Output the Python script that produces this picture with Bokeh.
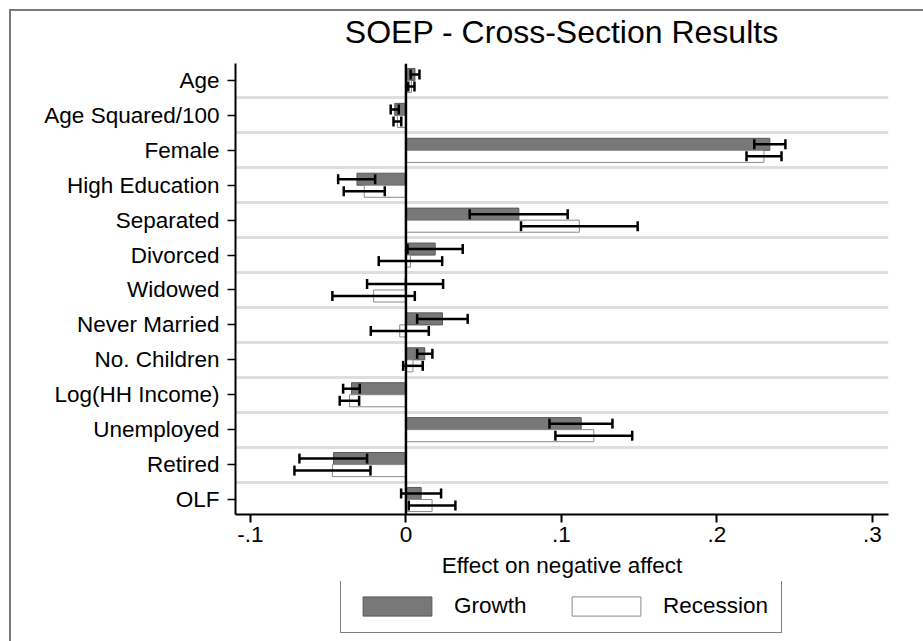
from bokeh.plotting import figure
from bokeh.layouts import column
from bokeh.models import (ColumnDataSource, Range1d, FixedTicker, Span, Legend,
                          LegendItem, Div)
from bokeh.embed import file_html
from bokeh.resources import INLINE

title_text = "SOEP - Cross-Section Results"
x_axis_label = "Effect on negative affect"

categories = ["Age", "Age Squared/100", "Female", "High Education", "Separated",
              "Divorced", "Widowed", "Never Married", "No. Children",
              "Log(HH Income)", "Unemployed", "Retired", "OLF"]

growth = [0.0058, -0.0072, 0.234, -0.0315, 0.0726, 0.0188, -0.0005, 0.0235,
          0.0121, -0.035, 0.1127, -0.0466, 0.0098]
growth_lo = [0.003, -0.0098, 0.224, -0.0436, 0.041, 0.001, -0.025, 0.0072,
             0.0072, -0.0404, 0.0923, -0.0685, -0.0031]
growth_hi = [0.0087, -0.0046, 0.244, -0.0198, 0.104, 0.0365, 0.0239, 0.0397,
             0.017, -0.0297, 0.1328, -0.025, 0.0226]

recession = [0.0035, -0.0055, 0.2302, -0.0268, 0.1115, 0.0029, -0.0208, -0.004,
             0.0045, -0.0363, 0.1208, -0.0473, 0.0168]
recession_lo = [0.0015, -0.008, 0.219, -0.040, 0.074, -0.0175, -0.0473, -0.0226,
                -0.0018, -0.0426, 0.0961, -0.0717, 0.0018]
recession_hi = [0.0055, -0.003, 0.2415, -0.0136, 0.149, 0.0233, 0.0057, 0.0147,
                0.0108, -0.0301, 0.1455, -0.0228, 0.0318]

x_ticks = [-0.1, 0.0, 0.1, 0.2, 0.3]
x_tick_labels = ["-.1", "0", ".1", ".2", ".3"]
series_names = ["Growth", "Recession"]

FONT = "Liberation Sans"
BAR_H = 0.345
CAP = 0.143
G_FILL, G_LINE = "#787878", "#5a5a5a"
R_FILL, R_LINE = "white", "#8a8a8a"

idx = list(range(len(categories)))
y_g = [i - BAR_H / 2 for i in idx]
y_r = [i + BAR_H / 2 for i in idx]

src_g = ColumnDataSource(dict(y=y_g, v=growth, lo=growth_lo, hi=growth_hi,
                              y0=[y - CAP for y in y_g], y1=[y + CAP for y in y_g]))
src_r = ColumnDataSource(dict(y=y_r, v=recession, lo=recession_lo, hi=recession_hi,
                              y0=[y - CAP for y in y_r], y1=[y + CAP for y in y_r]))

# title strip
title_div = Div(
    text=('<div style="box-sizing:border-box;width:912px;padding-left:224px;'
          'padding-right:35px;padding-top:5px;text-align:center;'
          "font-family:'Liberation Sans';font-size:32px;line-height:32px;"
          'color:black;white-space:nowrap;">' + title_text + '</div>'),
    width=912, height=52, margin=0)

p = figure(width=912, height=518, output_backend="svg", toolbar_location=None,
           x_range=Range1d(-0.1096, 0.3103), y_range=Range1d(12.43, -0.487),
           min_border_left=224, min_border_right=35, min_border_top=0,
           min_border_bottom=67)

p.outline_line_color = None
p.background_fill_color = "white"
p.border_fill_color = "white"

p.xgrid.visible = False
p.ygrid.ticker = FixedTicker(ticks=[i + 0.5 for i in idx[:-1]])
p.ygrid.grid_line_color = "#dedede"
p.ygrid.grid_line_width = 3

# y axis
p.yaxis.ticker = FixedTicker(ticks=idx)
p.yaxis.major_label_overrides = {i: c for i, c in zip(idx, categories)}
p.yaxis.minor_tick_line_color = None
p.yaxis.axis_line_color = "black"
p.yaxis.axis_line_width = 2
p.yaxis.major_tick_line_color = "black"
p.yaxis.major_tick_line_width = 1.5
p.yaxis.major_tick_out = 8
p.yaxis.major_tick_in = 0
p.yaxis.major_label_standoff = 8
p.yaxis.major_label_text_font = FONT
p.yaxis.major_label_text_font_size = "22.5px"
p.yaxis.major_label_text_color = "black"

# x axis
p.xaxis.ticker = FixedTicker(ticks=x_ticks)
p.xaxis.major_label_overrides = {t: l for t, l in zip(x_ticks, x_tick_labels)}
p.xaxis.minor_tick_line_color = None
p.xaxis.axis_line_color = "black"
p.xaxis.axis_line_width = 2
p.xaxis.major_tick_line_color = "black"
p.xaxis.major_tick_line_width = 2
p.xaxis.major_tick_out = 8
p.xaxis.major_tick_in = 0
p.xaxis.major_label_standoff = 4
p.xaxis.major_label_text_font = FONT
p.xaxis.major_label_text_font_size = "22.5px"
p.xaxis.major_label_text_color = "black"
p.xaxis.axis_label = x_axis_label
p.xaxis.axis_label_text_font = FONT
p.xaxis.axis_label_text_font_size = "22.5px"
p.xaxis.axis_label_text_font_style = "normal"
p.xaxis.axis_label_text_color = "black"
p.xaxis.axis_label_standoff = 8

# bars
p.hbar(y="y", left=0, right="v", height=BAR_H, source=src_g,
       fill_color=G_FILL, line_color=G_LINE, line_width=1)
p.hbar(y="y", left=0, right="v", height=BAR_H, source=src_r,
       fill_color=R_FILL, line_color=R_LINE, line_width=1)

p.add_layout(Span(location=0, dimension="height", line_color="black", line_width=2.5))

# error bars
for src in (src_g, src_r):
    p.segment(x0="lo", x1="hi", y0="y", y1="y", source=src, line_color="black",
              line_width=2.5)
    p.segment(x0="lo", x1="lo", y0="y0", y1="y1", source=src, line_color="black",
              line_width=2.5)
    p.segment(x0="hi", x1="hi", y0="y0", y1="y1", source=src, line_color="black",
              line_width=2.5)

# legend strip below the main plot (its swatch renderers sit outside the view)
lf = figure(width=912, height=60, output_backend="svg", toolbar_location=None,
            x_range=Range1d(0, 1), y_range=Range1d(0, 1),
            x_axis_type=None, y_axis_type=None,
            min_border_left=224, min_border_right=35, min_border_top=0,
            min_border_bottom=0)
lf.outline_line_color = None
lf.grid.visible = False
lf.background_fill_color = "white"
lf.border_fill_color = "white"
lg = lf.hbar(y=[-5], left=[0], right=[growth[0]], height=0.1,
             fill_color=G_FILL, line_color=G_LINE)
lr = lf.hbar(y=[-5], left=[0], right=[recession[0]], height=0.1,
             fill_color=R_FILL, line_color=R_LINE)

legend = Legend(items=[LegendItem(label=series_names[0], renderers=[lg]),
                       LegendItem(label=series_names[1], renderers=[lr])],
                orientation="horizontal", location=(105, 8),
                glyph_width=86, glyph_height=24, label_standoff=14,
                label_width=105, spacing=4, padding=13, margin=0,
                label_text_font=FONT, label_text_font_size="22.5px",
                label_text_color="black",
                border_line_color="black", border_line_width=1.5,
                background_fill_color="white")
lf.add_layout(legend, "center")

layout = column(title_div, p, lf, spacing=0,
                styles={"margin-left": "9px", "margin-top": "9px",
                        "border-left": "2px solid #7a7a7a",
                        "border-top": "2px solid #7a7a7a",
                        "background-color": "white"})

open("out.html", "w").write(file_html(layout, INLINE))
